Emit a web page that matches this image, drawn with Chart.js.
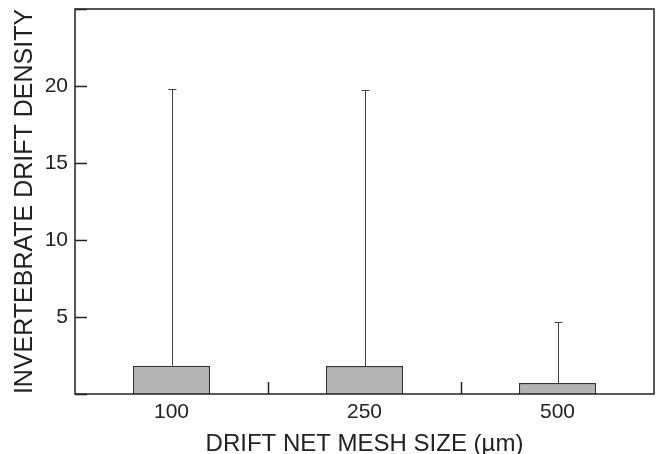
<!DOCTYPE html>
<html>
<head>
<meta charset="utf-8">
<script src="https://cdn.jsdelivr.net/npm/chart.js@4"></script>
<style>
  html, body { margin: 0; padding: 0; background: #fff; }
  #wrap { width: 656px; height: 454px; }
</style>
</head>
<body>
<div id="wrap"><canvas id="chart" width="656" height="454"></canvas></div>
<script>
// Mesh size categories and drift density values
const meshSizes = ['100', '250', '500'];
const meanDensity = [1.84, 1.82, 0.71];
const upperError = [19.78, 19.77, 4.70];
const yTickValues = [5, 10, 15, 20];
const yMax = 25;

const INK = '#222';
const FONT = "'Liberation Sans', Arial, sans-serif";

// frame, inward tick marks and one-sided error bars
const decorPlugin = {
  id: 'decor',
  afterDatasetsDraw(chart) {
    const { ctx, chartArea: a, scales: { x, y } } = chart;
    const tickLen = 12;
    ctx.save();

    // error bars
    ctx.strokeStyle = '#444';
    ctx.lineWidth = 1;
    meanDensity.forEach((m, i) => {
      const cx = Math.round(x.getPixelForValue(i)) + 0.5;
      const yb = y.getPixelForValue(m);
      const yt = Math.round(y.getPixelForValue(upperError[i])) + 0.5;
      ctx.beginPath();
      ctx.moveTo(cx, yb);
      ctx.lineTo(cx, yt);
      ctx.moveTo(cx - 4, yt);
      ctx.lineTo(cx + 4, yt);
      ctx.stroke();
    });

    // frame
    ctx.strokeStyle = INK;
    ctx.lineWidth = 1.5;
    ctx.strokeRect(a.left, a.top, a.right - a.left, a.bottom - a.top);

    // y ticks pointing inward
    ctx.beginPath();
    [0, ...yTickValues, yMax].forEach(v => {
      const py = Math.round(y.getPixelForValue(v)) + 0.5;
      ctx.moveTo(a.left, py);
      ctx.lineTo(a.left + tickLen, py);
    });
    // x ticks between categories
    for (let i = 0; i < meshSizes.length - 1; i++) {
      const px = Math.round((x.getPixelForValue(i) + x.getPixelForValue(i + 1)) / 2) + 0.5;
      ctx.moveTo(px, a.bottom);
      ctx.lineTo(px, a.bottom - tickLen);
    }
    ctx.stroke();
    ctx.restore();
  }
};

new Chart(document.getElementById('chart'), {
  type: 'bar',
  data: {
    labels: meshSizes,
    datasets: [{
      data: meanDensity,
      backgroundColor: '#b3b3b3',
      borderColor: '#333',
      borderWidth: 1.5,
      barPercentage: 0.4,
      categoryPercentage: 1.0
    }]
  },
  options: {
    responsive: false,
    animation: false,
    layout: { padding: { top: 9, right: 2, left: 0, bottom: 0 } },
    plugins: {
      legend: { display: false },
      tooltip: { enabled: false }
    },
    scales: {
      x: {
        grid: { display: false, drawTicks: false },
        border: { display: false },
        ticks: { color: INK, font: { family: FONT, size: 21 }, padding: 6 },
        title: {
          display: true,
          text: 'DRIFT NET MESH SIZE (µm)',
          color: INK,
          font: { family: FONT, size: 24 },
          padding: { top: 0, bottom: -5 }
        },
        afterFit(scale) {
          scale.height = 60;
          scale.paddingLeft = 0;
          scale.paddingRight = 0;
        }
      },
      y: {
        min: 0,
        max: yMax,
        grid: { display: false, drawTicks: false },
        border: { display: false },
        afterBuildTicks(scale) {
          scale.ticks = yTickValues.map(v => ({ value: v }));
        },
        ticks: { color: INK, font: { family: FONT, size: 21 }, padding: 7 },
        title: {
          display: true,
          text: 'INVERTEBRATE DRIFT DENSITY',
          color: INK,
          font: { family: FONT, size: 25 },
          padding: { top: 10, bottom: 0 }
        },
        afterFit(scale) {
          scale.width = 75;
          scale.paddingTop = 0;
          scale.paddingBottom = 0;
        }
      }
    }
  },
  plugins: [decorPlugin]
});
</script>
</body>
</html>
